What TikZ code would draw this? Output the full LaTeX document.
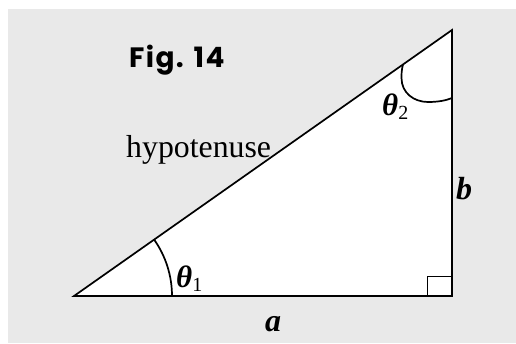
\documentclass[tikz,border=0pt]{standalone}
\usepackage{fontspec}
\setmainfont{Liberation Serif}
\newfontfamily\figfont{Poppins}[LetterSpace=5]
\definecolor{bggray}{HTML}{E9E9E9}
\begin{document}
\begin{tikzpicture}[x=1pt,y=-1pt,
  edge/.style={line width=1.7pt, line join=miter},
  sq/.style={line width=1.5pt},
  lbl/.style={inner sep=0pt, anchor=base west},
  figlbl/.style={lbl, font=\figfont\bfseries\fontsize{28}{30}\selectfont},
  txtlbl/.style={lbl, font=\fontsize{31.8}{36}\selectfont},
  varlbl/.style={lbl, font=\bfseries\itshape\fontsize{32}{34}\selectfont},
  anglbl/.style={lbl, font=\bfseries\itshape\fontsize{31}{32}\selectfont}]
\useasboundingbox (0,0) rectangle (516,343);
\fill[white] (0,0) rectangle (516,343);
\fill[bggray] (8,9) rectangle (516,343);
\coordinate (A) at (74,296);
\coordinate (B) at (452,30);
\coordinate (C) at (452,296);
\fill[white] (A) -- (B) -- (C) -- cycle;
\draw[edge] (A) -- (B) -- (C) -- cycle;
% right angle mark
\draw[sq] ([xshift=-24.5pt]C) |- ([yshift=19.5pt]C);
% angle theta1
\draw[edge] ([xshift=98pt]A) arc[start angle=0, end angle=35.13, radius=98pt];
% angle theta2
\draw[edge] (403,64.5) .. controls (401.5,70) and (401.5,74) .. (401.5,78)
  .. controls (401.5,93) and (414,102) .. (428,102)
  .. controls (438,102) and (446,100.5) .. (452,98);
% labels
\node[figlbl] (fig) at (129,67.7) {Fig. 14};
\node[txtlbl] (hyp) at (126,157) {hypotenuse};
\node[anglbl] (t1) at (176,287) {θ\raisebox{-4pt}{\mdseries\upshape\fontsize{20}{20}\selectfont 1}};
\node[anglbl] (t2) at (382,115) {θ\raisebox{-4pt}{\mdseries\upshape\fontsize{20}{20}\selectfont 2}};
\node[varlbl] (la) at (265,331) {a};
\node[varlbl] (lb) at (456,199) {b};
\end{tikzpicture}
\end{document}
